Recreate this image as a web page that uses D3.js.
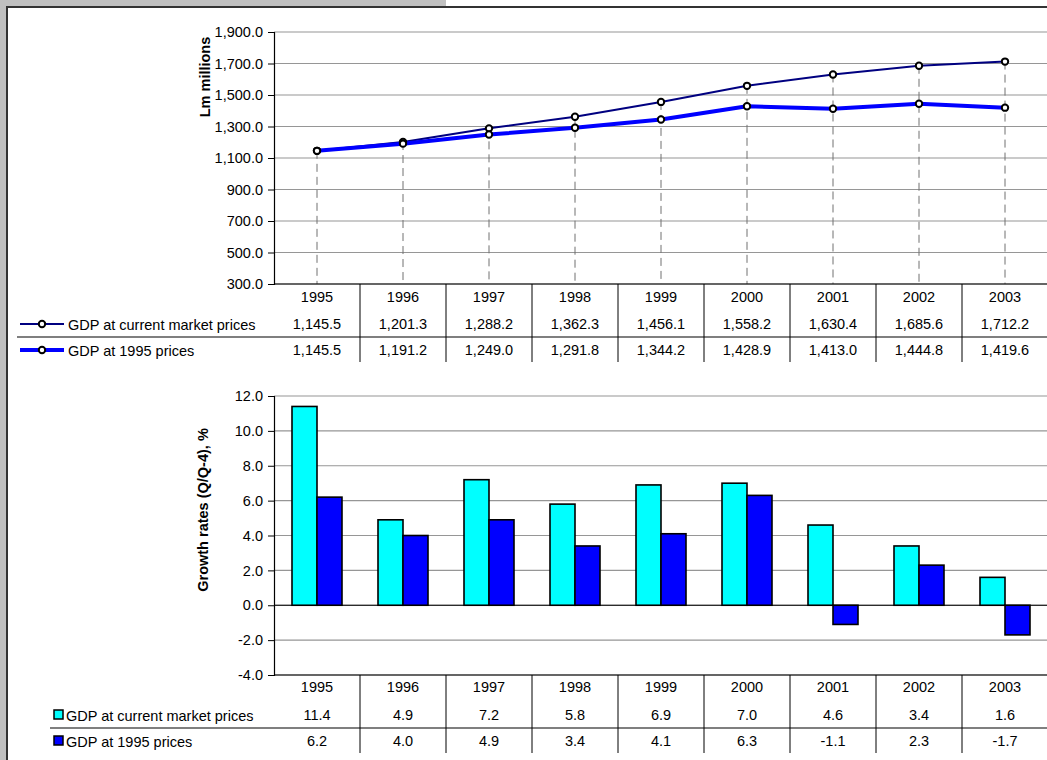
<!DOCTYPE html>
<html>
<head>
<meta charset="utf-8">
<script src="https://cdn.jsdelivr.net/npm/d3@7"></script>
<style>
  html, body { margin: 0; padding: 0; background: #ffffff; }
  svg { display: block; font-family: "Liberation Sans", Arial, sans-serif; }
</style>
</head>
<body>
<svg id="chart" width="1047" height="760"></svg>
<script>
// Years shown on both charts
const years = ["1995", "1996", "1997", "1998", "1999", "2000", "2001", "2002", "2003"];

// GDP levels, Lm millions
const gdpCurrent = [1145.5, 1201.3, 1288.2, 1362.3, 1456.1, 1558.2, 1630.4, 1685.6, 1712.2];
const gdpConstant = [1145.5, 1191.2, 1249.0, 1291.8, 1344.2, 1428.9, 1413.0, 1444.8, 1419.6];

// Growth rates (Q/Q-4), %
const growthCurrent = [11.4, 4.9, 7.2, 5.8, 6.9, 7.0, 4.6, 3.4, 1.6];
const growthConstant = [6.2, 4.0, 4.9, 3.4, 4.1, 6.3, -1.1, 2.3, -1.7];

// Axis ticks
const levelTicks = [300, 500, 700, 900, 1100, 1300, 1500, 1700, 1900];
const growthTicks = [-4, -2, 0, 2, 4, 6, 8, 10, 12];

const seriesNames = ["GDP at current market prices", "GDP at 1995 prices"];

const FS = 14.5;
const svg = d3.select("#chart");
// plain hyphen for negatives
const fmtLevel = v => d3.format(",.1f")(v).replace("\u2212", "-");
const fmtGrowth = v => d3.format(".1f")(v).replace("\u2212", "-");

// Page frame
svg.append("rect").attr("x", 0).attr("y", 0).attr("width", 446).attr("height", 6).attr("fill", "#c0c0c0");
svg.append("rect").attr("x", 0).attr("y", 0).attr("width", 6).attr("height", 760).attr("fill", "#c0c0c0");
svg.append("line").attr("x1", 6).attr("x2", 1047).attr("y1", 7).attr("y2", 7)
  .attr("stroke", "#333").attr("stroke-width", 2);
svg.append("line").attr("x1", 7).attr("x2", 7).attr("y1", 6).attr("y2", 760)
  .attr("stroke", "#333").attr("stroke-width", 2);

const plotLeft = 274, plotRight = 1048;
const x = d3.scaleBand().domain(years).range([plotLeft, plotRight]).paddingInner(0).paddingOuter(0);
const xc = d => x(d) + x.bandwidth() / 2;

function drawYAxis(g, y, ticks, fmt) {
  // horizontal gridlines
  g.append("g").selectAll("line").data(ticks).join("line")
    .attr("x1", plotLeft).attr("x2", plotRight)
    .attr("y1", d => y(d)).attr("y2", d => y(d))
    .attr("stroke", "#969696").attr("stroke-width", 1.2);
  const axis = d3.axisLeft(y).tickValues(ticks).tickFormat(fmt).tickSize(6).tickPadding(5);
  const ag = g.append("g").attr("transform", `translate(${plotLeft},0)`).call(axis);
  ag.attr("font-size", FS).attr("font-family", "Liberation Sans, Arial, sans-serif");
  ag.select(".domain").attr("stroke", "#000").attr("stroke-width", 1.2);
  ag.selectAll(".tick line").attr("stroke", "#000").attr("stroke-width", 1);
  ag.selectAll(".tick text").attr("fill", "#000");
}

function drawTable(g, yAxisBottom, rowYs, rows, fmt, lineStart, sepY, tableBottom) {
  // axis baseline
  g.append("line").attr("x1", plotLeft).attr("x2", plotRight)
    .attr("y1", yAxisBottom).attr("y2", yAxisBottom).attr("stroke", "#000").attr("stroke-width", 1.2);
  // category separators
  g.append("g").selectAll("line").data(years.slice(1)).join("line")
    .attr("x1", d => x(d)).attr("x2", d => x(d))
    .attr("y1", yAxisBottom).attr("y2", tableBottom)
    .attr("stroke", "#000").attr("stroke-width", 1);
  // row separator
  g.append("line").attr("x1", lineStart).attr("x2", plotRight)
    .attr("y1", sepY).attr("y2", sepY).attr("stroke", "#000").attr("stroke-width", 1.2);
  // year labels
  g.append("g").selectAll("text").data(years).join("text")
    .attr("x", d => xc(d)).attr("y", rowYs[0]).attr("text-anchor", "middle")
    .attr("dominant-baseline", "central").attr("font-size", FS).text(d => d);
  rows.forEach((vals, i) => {
    g.append("g").selectAll("text").data(vals).join("text")
      .attr("x", (d, j) => xc(years[j])).attr("y", rowYs[i + 1]).attr("text-anchor", "middle")
      .attr("dominant-baseline", "central").attr("font-size", FS).text(d => fmt(d));
  });
}

// ---------- Upper chart: GDP levels ----------
const levelG = svg.append("g");
const y1 = d3.scaleLinear().domain([300, 1900]).range([284, 32]);
drawYAxis(levelG, y1, levelTicks, fmtLevel);

levelG.append("text")
  .attr("transform", "translate(205,77) rotate(-90)")
  .attr("text-anchor", "middle").attr("dominant-baseline", "central")
  .attr("font-size", FS).attr("font-weight", "bold").text("Lm millions");

// dashed drop lines from the higher point to the axis
levelG.append("g").selectAll("line").data(years).join("line")
  .attr("x1", d => xc(d)).attr("x2", d => xc(d))
  .attr("y1", (d, i) => y1(Math.max(gdpCurrent[i], gdpConstant[i])))
  .attr("y2", y1(300))
  .attr("stroke", "#707070").attr("stroke-width", 1).attr("stroke-dasharray", "8,5");

const lineGen = d3.line().x((d, i) => xc(years[i])).y(d => y1(d));
const lineStyles = [
  { data: gdpCurrent, color: "#000080", width: 2 },
  { data: gdpConstant, color: "#0000ff", width: 4 }
];
lineStyles.forEach(s => {
  levelG.append("path").datum(s.data).attr("d", lineGen)
    .attr("fill", "none").attr("stroke", s.color).attr("stroke-width", s.width)
    .attr("stroke-linejoin", "round");
});
lineStyles.forEach(s => {
  levelG.append("g").selectAll("circle").data(s.data).join("circle")
    .attr("cx", (d, i) => xc(years[i])).attr("cy", d => y1(d)).attr("r", 3.2)
    .attr("fill", "#fff").attr("stroke", "#000").attr("stroke-width", 2);
});

drawTable(levelG, y1(300), [297, 324, 350], [gdpCurrent, gdpConstant], fmtLevel, 17, 337, 362);

// legend keys in the table
const levelRows = [324, 350];
lineStyles.forEach((s, i) => {
  const ly = levelRows[i];
  levelG.append("line").attr("x1", 20).attr("x2", 64).attr("y1", ly).attr("y2", ly)
    .attr("stroke", s.color).attr("stroke-width", s.width);
  levelG.append("circle").attr("cx", 42).attr("cy", ly).attr("r", 3.2)
    .attr("fill", "#fff").attr("stroke", "#000").attr("stroke-width", 2);
  levelG.append("text").attr("x", 68).attr("y", ly + 1).attr("dominant-baseline", "central")
    .attr("font-size", FS).text(seriesNames[i]);
});

// ---------- Lower chart: growth rates ----------
const growthG = svg.append("g");
const y2 = d3.scaleLinear().domain([-4, 12]).range([675, 396]);
drawYAxis(growthG, y2, growthTicks, fmtGrowth);

// zero line
growthG.append("line").attr("x1", plotLeft).attr("x2", plotRight)
  .attr("y1", y2(0)).attr("y2", y2(0)).attr("stroke", "#000").attr("stroke-width", 1.2);

growthG.append("text")
  .attr("transform", "translate(203,510) rotate(-90)")
  .attr("text-anchor", "middle").attr("dominant-baseline", "central")
  .attr("font-size", FS).attr("font-weight", "bold").text("Growth rates (Q/Q-4), %");

const inner = d3.scaleBand().domain([0, 1]).range([-25, 25]);
const barSeries = [
  { data: growthCurrent, color: "#00ffff" },
  { data: growthConstant, color: "#0000ff" }
];
barSeries.forEach((s, k) => {
  growthG.append("g").selectAll("rect").data(s.data).join("rect")
    .attr("x", (d, i) => xc(years[i]) + inner(k))
    .attr("width", inner.bandwidth())
    .attr("y", d => y2(Math.max(0, d)))
    .attr("height", d => Math.abs(y2(d) - y2(0)))
    .attr("fill", s.color).attr("stroke", "#000").attr("stroke-width", 1.6);
});

drawTable(growthG, y2(-4), [687, 715, 741], [growthCurrent, growthConstant], fmtGrowth, 50, 728, 753);

const growthRows = [715, 741];
barSeries.forEach((s, i) => {
  const ly = growthRows[i];
  growthG.append("rect").attr("x", 54).attr("y", ly - 5).attr("width", 9).attr("height", 9)
    .attr("fill", s.color).attr("stroke", "#000").attr("stroke-width", 1.5);
  growthG.append("text").attr("x", 66).attr("y", ly + 1).attr("dominant-baseline", "central")
    .attr("font-size", FS).text(seriesNames[i]);
});
</script>
</body>
</html>
